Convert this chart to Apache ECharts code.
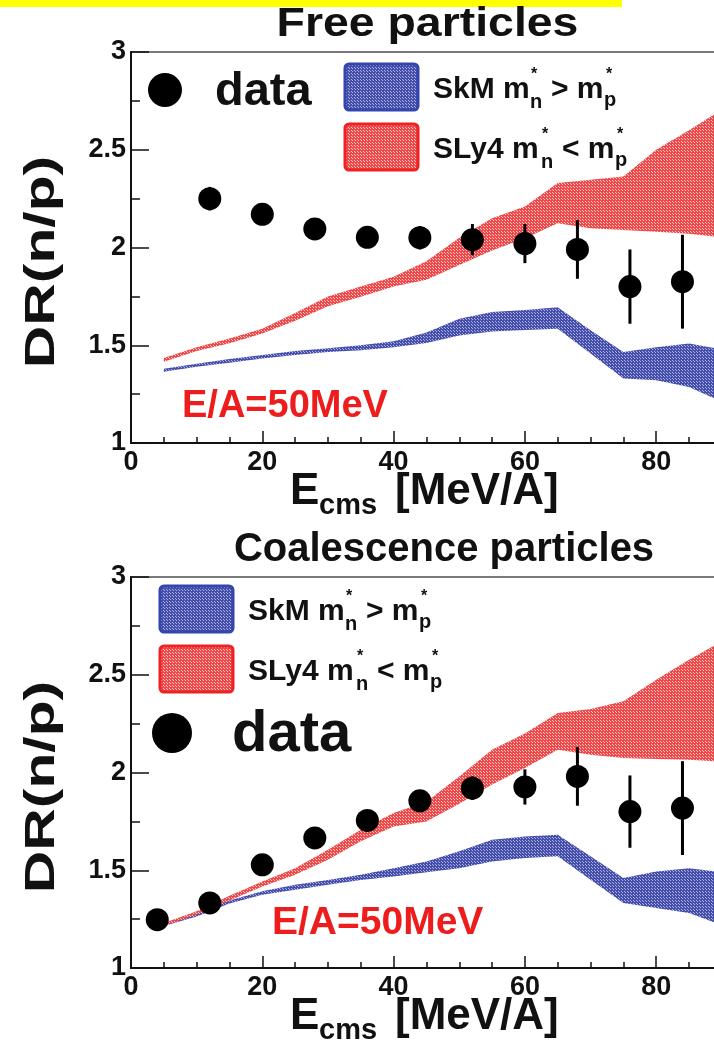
<!DOCTYPE html>
<html><head><meta charset="utf-8">
<script src="https://cdn.jsdelivr.net/npm/echarts@6/dist/echarts.min.js"></script>
<style>html,body{margin:0;padding:0;background:#fff}#c{width:714px;height:1045px}</style>
</head><body><div id="c"></div>
<script>
// ---------- data ----------
const bandX = [5,10,15,20,25,30,35,40,45,50,55,60,65,70,75,80,85,90];
// Free particles
const freeRedHigh  = [1.435,1.49,1.535,1.585,1.665,1.75,1.80,1.85,1.93,2.05,2.15,2.21,2.33,2.346,2.363,2.5,2.6,2.705];
const freeRedLow   = [1.415,1.47,1.51,1.56,1.625,1.70,1.748,1.80,1.835,1.91,1.985,2.047,2.124,2.098,2.09,2.08,2.07,2.052];
const freeBlueHigh = [1.38,1.405,1.43,1.45,1.47,1.485,1.50,1.52,1.565,1.635,1.67,1.68,1.695,1.577,1.466,1.49,1.509,1.478];
const freeBlueLow  = [1.365,1.39,1.41,1.432,1.45,1.465,1.475,1.49,1.512,1.55,1.57,1.578,1.585,1.458,1.33,1.321,1.287,1.21];
const freeX   = [12,20,28,36,44,52,60,68,76,84];
const freeY   = [2.25,2.17,2.095,2.052,2.05,2.04,2.02,1.99,1.80,1.825];
const freeErr = [0.06,0.05,0.05,0.05,0.06,0.08,0.10,0.15,0.19,0.24];
// Coalescence particles
const coalRedHigh  = [1.23,1.29,1.37,1.443,1.51,1.605,1.707,1.793,1.85,1.98,2.117,2.2,2.304,2.325,2.364,2.475,2.577,2.67];
const coalRedLow   = [1.215,1.273,1.345,1.417,1.477,1.554,1.648,1.724,1.75,1.84,1.938,2.023,2.117,2.091,2.074,2.069,2.065,2.055];
const coalBlueHigh = [1.225,1.28,1.345,1.392,1.426,1.45,1.477,1.51,1.545,1.597,1.656,1.673,1.682,1.571,1.46,1.494,1.51,1.49];
const coalBlueLow  = [1.215,1.264,1.33,1.375,1.40,1.426,1.45,1.468,1.49,1.51,1.545,1.563,1.571,1.452,1.332,1.307,1.281,1.22];
const coalX   = [4,12,20,28,36,44,52,60,68,76,84];
const coalY   = [1.247,1.333,1.528,1.665,1.755,1.855,1.92,1.926,1.98,1.80,1.818];
const coalErr = [0.04,0.05,0.05,0.05,0.05,0.05,0.06,0.09,0.15,0.185,0.24];

const titles = ['Free particles','Coalescence particles'];
const yTitle = 'DR(n/p)';
const energyLabel = 'E/A=50MeV';

// ---------- helpers ----------
const FONT = '"Liberation Sans", Arial, Helvetica, sans-serif';
function pattern(base, light) {
  const c = document.createElement('canvas'); c.width = 3; c.height = 3;
  const g = c.getContext('2d');
  g.fillStyle = base; g.fillRect(0,0,3,3);
  g.fillStyle = light; g.fillRect(1,1,1,1); g.fillRect(0,0,1,1);
  return {image: c, repeat: 'repeat'};
}
const redFill = pattern('#ee4848', '#ffc8c8');
const blueFill = pattern('#4650aa', '#aab0e2');

function band(gi, lo, hi, fill) {
  return {
    type: 'custom', xAxisIndex: gi, yAxisIndex: gi, silent: true, clip: true,
    data: [[bandX[0], lo[0]]],
    renderItem: (params, api) => {
      const pts = [];
      for (let i = 0; i < bandX.length; i++) pts.push(api.coord([bandX[i], hi[i]]));
      for (let i = bandX.length - 1; i >= 0; i--) pts.push(api.coord([bandX[i], lo[i]]));
      return {type: 'polygon', shape: {points: pts}, style: {fill: fill}};
    }
  };
}
function errBars(gi, xs, ys, es) {
  return {
    type: 'custom', xAxisIndex: gi, yAxisIndex: gi, silent: true,
    data: xs.map((x, i) => [x, ys[i], es[i]]),
    renderItem: (params, api) => {
      const x = api.value(0), y = api.value(1), e = api.value(2);
      const a = api.coord([x, y + e]), b = api.coord([x, y - e]);
      return {type: 'line', shape: {x1: a[0], y1: a[1], x2: b[0], y2: b[1]}, style: {stroke: '#000', lineWidth: 3}};
    }
  };
}
function points(gi, xs, ys) {
  return {type: 'scatter', xAxisIndex: gi, yAxisIndex: gi, symbol: 'circle', symbolSize: 23,
    itemStyle: {color: '#000', opacity: 1}, data: xs.map((x, i) => [x, ys[i]]), silent: true};
}
function T(text, x, base, size, opt) {
  opt = opt || {};
  return Object.assign({
    type: 'text', x: x, y: base - 0.3465 * size, z: 100,
    style: {text: text, x: 0, y: 0, fontSize: size, fontWeight: 'bold', fontFamily: FONT,
      fill: opt.color || '#111', textAlign: opt.align || 'left', align: opt.align || 'left',
      textVerticalAlign: 'middle', verticalAlign: 'middle'}
  }, opt.extra || {});
}
function legendModels(dx, dy) {
  return [
    {type: 'rect', x: 345 + dx, y: 64 + dy, shape: {width: 73, height: 46, r: 4}, z: 100,
      style: {fill: blueFill, stroke: '#3446ad', lineWidth: 3}},
    {type: 'rect', x: 345 + dx, y: 124 + dy, shape: {width: 73, height: 46, r: 4}, z: 100,
      style: {fill: redFill, stroke: '#ee2222', lineWidth: 3}},
    T('SkM m', 433 + dx, 100 + dy, 30), T('n', 530 + dx, 109 + dy, 20), T('*', 531 + dx, 80 + dy, 16),
    T('> m', 551 + dx, 100 + dy, 30), T('p', 604 + dx, 107 + dy, 20), T('*', 606 + dx, 80 + dy, 16),
    T('SLy4 m', 433 + dx, 160 + dy, 30), T('n', 541 + dx, 169 + dy, 20), T('*', 542 + dx, 140 + dy, 16),
    T('< m', 562 + dx, 160 + dy, 30), T('p', 615 + dx, 167 + dy, 20), T('*', 617 + dx, 140 + dy, 16)
  ];
}

const graphics = [
  {type: 'rect', x: 0, y: 0, shape: {width: 622, height: 7}, style: {fill: '#ffff00'}, z: 100},
  T(titles[0], 427.5, 39, 40, {align: 'center', extra: {scaleX: 1.16}}),
  T(titles[1], 444, 564, 40, {align: 'center'}),
  // y titles
  {type: 'text', x: 42, y: 262, rotation: Math.PI / 2, scaleX: 1.4, z: 100,
    style: {text: yTitle, fontSize: 42, fontWeight: 'bold', fontFamily: FONT, fill: '#111',
      textAlign: 'center', align: 'center', textVerticalAlign: 'middle', verticalAlign: 'middle'}},
  {type: 'text', x: 42, y: 787, rotation: Math.PI / 2, scaleX: 1.4, z: 100,
    style: {text: yTitle, fontSize: 42, fontWeight: 'bold', fontFamily: FONT, fill: '#111',
      textAlign: 'center', align: 'center', textVerticalAlign: 'middle', verticalAlign: 'middle'}},
  // x titles
  T('E', 290, 507, 44), T('cms', 319, 516, 29), T('[MeV/A]', 395, 507, 44),
  T('E', 290, 1032, 44), T('cms', 319, 1041, 29), T('[MeV/A]', 395, 1032, 44),
  // energy labels
  T(energyLabel, 182, 420, 38, {color: '#ee1d1d'}),
  T(energyLabel, 272, 937, 39, {color: '#ee1d1d'}),
  // data legends
  {type: 'circle', x: 165, y: 90, shape: {r: 17}, style: {fill: '#000'}, z: 100},
  T('data', 215, 108, 47),
  {type: 'circle', x: 172, y: 733, shape: {r: 20}, style: {fill: '#000'}, z: 100},
  T('data', 232, 755, 58)
].concat(legendModels(0, 0), legendModels(-185, 522));

const gridBase = {left: 131, width: 656.5, height: 391, show: true, borderColor: '#7a7a7a', borderWidth: 2,
  containLabel: false, outerBoundsMode: 'none'};
const axisLbl = {fontSize: 27, fontWeight: 'bold', color: '#111', fontFamily: FONT};
const option = {
  animation: false,
  backgroundColor: '#fff',
  grid: [Object.assign({top: 52}, gridBase), Object.assign({top: 577}, gridBase)],
  xAxis: [0, 1].map(i => ({
    type: 'value', gridIndex: i, min: 0, max: 100, interval: 20,
    axisLine: {show: true, onZero: false, lineStyle: {color: '#111', width: 2}},
    axisTick: {show: true, inside: true, length: 12, lineStyle: {color: '#111', width: 1.5}},
    minorTick: {show: true, splitNumber: 4, length: 6, lineStyle: {color: '#111', width: 1.5}},
    splitLine: {show: false}, minorSplitLine: {show: false},
    axisLabel: Object.assign({margin: 6}, axisLbl)
  })),
  yAxis: [0, 1].map(i => ({
    type: 'value', gridIndex: i, min: 1, max: 3, interval: 0.5,
    axisLine: {show: true, onZero: false, lineStyle: {color: '#111', width: 2}},
    axisTick: {show: true, inside: true, length: 18, lineStyle: {color: '#111', width: 1.5}},
    minorTick: {show: true, splitNumber: 2, length: 9, lineStyle: {color: '#111', width: 1.5}},
    splitLine: {show: false}, minorSplitLine: {show: false},
    axisLabel: Object.assign({margin: 5}, axisLbl)
  })),
  series: [
    band(0, freeBlueLow, freeBlueHigh, blueFill),
    band(0, freeRedLow, freeRedHigh, redFill),
    errBars(0, freeX, freeY, freeErr),
    points(0, freeX, freeY),
    band(1, coalBlueLow, coalBlueHigh, blueFill),
    band(1, coalRedLow, coalRedHigh, redFill),
    errBars(1, coalX, coalY, coalErr),
    points(1, coalX, coalY)
  ],
  graphic: {elements: graphics}
};
const chart = echarts.init(document.getElementById('c'), null, {renderer: 'canvas'});
chart.setOption(option);
</script>
</body></html>
